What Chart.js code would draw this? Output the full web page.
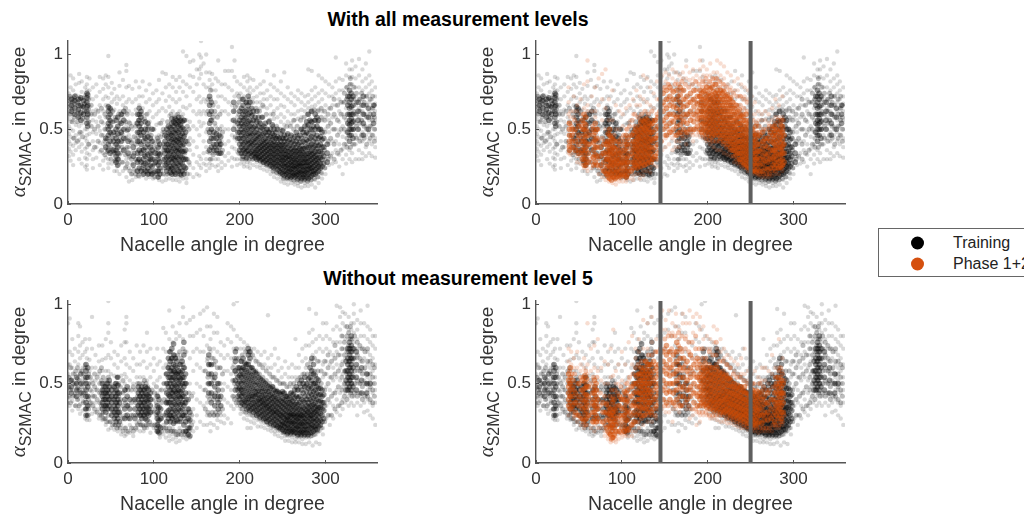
<!DOCTYPE html>
<html lang="en">
<head>
<meta charset="UTF-8">
<title>Nacelle angle scatter</title>
<script src="https://cdn.jsdelivr.net/npm/chart.js"></script>
<style>
    html, body { margin: 0; padding: 0; width: 1024px; height: 517px; overflow: hidden; background: #fff; font-family: "Liberation Sans", Arial, sans-serif; color: #000; }
    canvas { position: absolute; filter: blur(0.5px); }
    .heading { position: absolute; font-weight: bold; font-size: 19.5px; white-space: nowrap; transform: translate(-50%, -50%); }
    .ylabel { position: absolute; white-space: nowrap; font-size: 19px; color: #333; transform: translate(-50%, -50%) rotate(-90deg); }
    .ylabel i { font-family: "Liberation Serif", serif; font-size: 21px; }
    .ylabel sub { font-size: 16px; vertical-align: -6px; line-height: 0; }
    #legend { position: absolute; left: 878px; top: 228px; width: 170px; height: 47px; border: 1px solid #666; box-sizing: content-box; }
    #legend div { position: absolute; left: 74px; font-size: 16px; color: #222; white-space: nowrap; transform: translateY(-50%); }
    #legend span { position: absolute; left: 32px; width: 13px; height: 13px; border-radius: 50%; transform: translateY(-50%); }
</style>
</head>
<body>
<div class="heading" style="left:458px;top:19px">With all measurement levels</div>
<div class="heading" style="left:458px;top:278px">Without measurement level 5</div>

<canvas id="c1" width="400" height="235" style="left:0;top:30px"></canvas>
<canvas id="c2" width="400" height="235" style="left:470px;top:30px"></canvas>
<canvas id="c3" width="400" height="227" style="left:0;top:290px"></canvas>
<canvas id="c4" width="400" height="227" style="left:470px;top:290px"></canvas>

<div class="ylabel" style="left:18px;top:122px"><i>α</i><sub>S2MAC</sub> in degree</div>
<div class="ylabel" style="left:486px;top:122px"><i>α</i><sub>S2MAC</sub> in degree</div>
<div class="ylabel" style="left:18px;top:382px"><i>α</i><sub>S2MAC</sub> in degree</div>
<div class="ylabel" style="left:486px;top:382px"><i>α</i><sub>S2MAC</sub> in degree</div>

<div id="legend">
    <span style="top:14px;background:#000"></span><div style="top:14px">Training</div>
    <span style="top:35px;background:#d5500f"></span><div style="top:35px">Phase 1+2</div>
</div>

<script>
// every row is [nacelle angle, alpha values read at that angle...]
const trainAllSparse = [
[1,.74,.71,.67,.62,.57,.52,.47,.42,.37,.32],[3,.86,.78,.72,.68,.64,.6,.55,.5,.45,.4,.35,.29],[6,.84,.76,.7,.65,.6,.56,.49,.44,.39,.33,.26],[9,.8,.73,.69,.66,.61,.53,.46,.41,.36],
[13,.87,.81,.72,.67,.63,.58,.52,.47,.43,.38,.3],[16,.82,.75,.7,.64,.59,.54,.48,.4,.35,.27],[20,.78,.73,.68,.62,.56,.5,.44,.37,.31,.25],[22,.85,.8,.76,.5,.46,.42,.38,.34,.3,.26,.23],
[25,.84,.76,.71,.65,.6,.55,.47,.4,.33],[29,.78,.7,.62,.56,.48,.42,.36,.3,.24],[33,.8,.72,.63,.55,.47,.38,.31],[37,.85,.75,.66,.58,.49,.41,.35,.26],
[41,.84,.77,.7,.62,.54,.46,.4,.34,.29,.23],[44,.86,.8,.72,.66,.58,.5,.43,.37,.31],[47,.99,.85,.78,.71,.66,.3,.27,.24],[51,.81,.74,.68,.6,.52,.45,.38,.33,.27],
[54,.77,.7,.63,.55,.48,.4,.35,.29,.22],[57,.72,.67,.25,.22],[60,.88,.79,.7,.62,.54,.47,.39,.33,.27,.2],[64,.83,.72,.66,.58,.5,.42,.36,.28,.22],
[68,.93,.89,.78,.68,.61,.53,.45,.37,.3,.25,.18],[71,.79,.7,.62,.55,.46,.38,.31,.24,.15],[75,.77,.68,.6,.5,.42,.35,.27,.2,.16],[79,.82,.7,.63,.54,.44,.36,.29,.22,.18],
[83,.78,.72,.66,.2,.18],[87,.82,.72,.64,.56,.46,.37,.28,.22,.19],[91,.76,.68,.6,.52,.43,.34,.25,.2,.17],[95,.8,.7,.62,.55,.47,.38,.3,.22,.18],
[99,.74,.66,.58,.5,.42,.34,.26,.2,.17],[103,.76,.68,.6,.53,.45,.36,.27,.21],[106,.83,.7,.62,.54,.46,.38,.3,.22,.18,.16],[110,.88,.74,.64,.56,.48,.37,.28,.2,.15],
[114,.87,.78,.69,.62,.28,.24,.19,.16],[118,.8,.72,.65,.59,.24,.2,.17],[122,.85,.78,.7,.62,.22,.19,.16],[126,.83,.75,.68,.6,.19,.16],
[130,.85,.78,.7,.62,.21,.18,.15],[134,1.02,.82,.75,.65,.6,.2,.17],[138,.99,.8,.72,.64,.56,.3,.24,.17,.14],[142,.95,.86,.78,.66,.55,.44,.36,.26,.2],
[146,.96,.85,.75,.62,.52,.42,.33,.24,.18],[150,.9,.8,.7,.6,.5,.38,.28,.2],[153,1,.9,.84,.72,.62,.55,.46,.32,.26,.19],[155,1.09,.98,.92,.87,.68,.6,.52,.3,.24],
[158,.94,.8,.7,.62,.54,.42,.34,.27],[161,1,.88,.78,.68,.6,.48,.38,.3,.26,.22],[165,.88,.83,.78,.46,.34,.3,.27,.24],[168,.87,.8,.76,.6,.5,.34,.3,.26],
[172,.84,.76,.68,.6,.52,.34,.3,.25],[175,.96,.82,.72,.65,.3,.26,.22],[179,.8,.72,.62,.52,.42,.34,.28,.24],[183,.89,.8,.7,.62,.5,.4,.32,.26],
[187,.89,.78,.68,.6,.5,.42,.34,.29],[191,1.05,.89,.76,.66,.56,.46,.38,.31,.25],[194,.96,.85,.72,.62,.52,.44,.37,.3],[197,.82,.74,.66,.58,.5,.42,.35,.3,.26],
[201,.8,.74,.7,.33,.3,.27],[205,.85,.78,.72,.3,.27,.25],[209,.86,.82,.76,.28,.25],[212,.84,.78,.74,.3,.27,.24],
[216,.83,.76,.71,.3,.26],[220,.78,.72,.68,.28,.25],[224,.8,.74,.68,.64,.26,.24],[228,.82,.74,.7,.65,.26,.23],
[232,.89,.76,.7,.64,.25,.22],[236,.8,.72,.66,.6,.23,.2],[240,.86,.78,.7,.62,.57,.21,.18],[244,.76,.7,.64,.58,.2,.17],
[248,.82,.74,.66,.6,.55,.18,.15],[252,.88,.72,.65,.58,.53,.17,.14],[256,.78,.7,.62,.55,.16,.13],[260,.74,.68,.6,.54,.16,.14],
[264,.72,.66,.6,.56,.15,.13],[268,.76,.7,.62,.57,.14,.12],[272,.74,.68,.63,.58,.15,.11],[276,.72,.66,.62,.14,.12],
[280,.9,.73,.68,.64,.15,.12],[284,.89,.76,.7,.65,.16,.13],[288,.78,.72,.66,.16,.11],[292,.86,.74,.68,.63,.18,.14],
[296,.84,.76,.7,.62,.56,.2,.17],[300,.82,.74,.66,.58,.5,.3,.24,.2],[304,.8,.72,.64,.56,.48,.4,.32,.26],[308,.78,.72,.66,.58,.5,.42,.34,.27],
[312,.98,.82,.74,.66,.58,.5,.42,.36,.28],[316,.84,.76,.7,.62,.55,.48,.4,.33,.25],[320,.83,.76,.68,.6,.52,.45,.37,.3,.2],[324,.94,.86,.78,.7,.64,.56,.48,.4,.33,.27],
[328,.9,.85,.8,.36,.3],[331,.96,.9,.85,.8,.4,.34,.28],[335,.92,.84,.78,.72,.66,.6,.54,.46,.4,.3],[339,.97,.86,.78,.7,.64,.58,.5,.44,.36,.3],
[343,.9,.82,.76,.7,.62,.56,.48,.42,.34,.3],[347,.94,.84,.78,.72,.66,.6,.52,.46,.38,.32],[351,1.02,.86,.8,.74,.68,.62,.56,.48,.42,.34],[354,.82,.76,.7,.64,.58,.52,.46,.4,.32],
[358,.78,.72,.67,.62,.56,.5,.44,.38,.31]
];
const trainAllMid = [
[2,.6,.65,.69,.72],[5,.55,.63,.68],[7,.44,.58,.67,.71],[11,.42,.55,.61,.68],[14,.48,.6,.7],[17,.45,.57,.65],[19,.62,.67,.71],[24,.4,.55,.63,.7],[27,.52,.6,.66],[31,.38,.5,.6],[35,.42,.52,.62],[39,.36,.46,.55,.64],[43,.33,.42,.5,.6],[46,.35,.44,.52],
[50,.3,.37,.47,.55,.63],[52,.35,.44,.55,.62],[55,.29,.34,.46,.58],[59,.3,.42,.5,.6],[61,.34,.45,.55],[63,.28,.38,.47,.6],[67,.24,.33,.44,.55,.64],[69,.27,.38,.49,.6],[72,.22,.32,.43,.54],[74,.2,.3,.41,.52],[77,.23,.34,.45],[79,.2,.3,.4,.52],
[82,.19,.3,.45,.56],[86,.24,.36,.5,.6],[89,.23,.33,.45,.57],[92,.22,.36,.47,.6],[94,.2,.3,.42,.52],[97,.2,.33,.46],[100,.21,.3,.4,.5],[101,.18,.27,.37],[104,.2,.32,.44],[108,.22,.34,.45,.54],[111,.2,.3,.4,.5],[112,.24,.36,.48],[116,.2,.35,.55],[120,.23,.46,.6],[124,.21,.58],[128,.2,.6],[132,.19,.58],[136,.22,.34,.46,.56],[139,.2,.3,.42,.52],[141,.28,.4,.5],
[163,.35,.5,.62,.7],[166,.3,.56,.7,.76],[169,.33,.46,.58,.66],[171,.38,.54,.62],[174,.34,.5,.58],[177,.4,.5,.6],[180,.36,.48],[195,.45,.55,.65],[199,.34,.6,.68,.72],[203,.3,.62,.7],[207,.3,.6,.68],[211,.3,.63,.7],[215,.3,.6,.68],[219,.32,.56,.64],[223,.3,.55,.62],[227,.28,.5,.58,.66],
[231,.26,.5,.6],[235,.25,.48,.56],[239,.22,.45,.52,.6],[243,.21,.44,.52],[247,.2,.44,.5],[251,.17,.44,.5],[255,.17,.46,.52],[259,.17,.45,.52],[263,.16,.44,.5,.56],[267,.16,.46,.52],[271,.15,.5,.56],[275,.16,.5,.58],[279,.15,.52,.6],[283,.16,.55,.62],[287,.17,.56,.63],[291,.18,.55,.62],[295,.21,.5,.58,.64],
[299,.24,.36,.48,.56,.62],[303,.3,.42,.52,.6],[306,.32,.44,.54,.64],[310,.3,.4,.5,.6,.7],[314,.34,.46,.56,.66],[318,.36,.5,.6,.68],[322,.4,.5,.58,.68,.74],[325,.38,.44,.7,.78],[329,.38,.8,.84],[333,.4,.5,.56,.62,.7,.78],[336,.44,.52,.6,.68,.74],[340,.42,.54,.62,.7],[342,.46,.56,.66,.74],[345,.44,.52,.6,.68],[348,.4,.5,.58,.66,.72],[352,.44,.52,.6,.7],[355,.46,.56,.64,.72],[357,.42,.5,.58,.66]
];
const trainAllDense = [
[4,.62,.66,.7],[8,.6,.64,.69,.72],[12,.58,.63,.66,.7],[15,.56,.61,.66,.71],[18,.6,.65,.69],
[22,.54,.58,.62,.65,.68,.71,.74],[23,.52,.6,.66,.73],[44,.38,.44],[47,.36,.4,.46,.5,.54,.58,.62,.65],[49,.34,.42,.48,.52,.56,.6,.64],
[53,.36,.42,.48],[56,.28,.32,.36,.4,.44,.5,.56],[58,.26,.3,.34,.38,.42,.47,.52,.58],[62,.42,.48,.54,.6],[65,.36,.44,.5,.56,.62],
[70,.34,.42,.5],[76,.26,.32,.38],[81,.22,.28,.34,.42,.48,.54,.6],[83,.24,.3,.36,.42,.48,.52,.56,.6,.64],[85,.22,.28,.34,.4,.46,.5,.54,.58,.62],
[88,.2,.26,.3,.36,.42,.48],[90,.22,.27,.32,.38,.44,.5,.55],[93,.2,.24,.28,.33,.4,.45,.5,.54],[96,.22,.26,.3,.34,.38,.44],[98,.2,.25,.3,.36,.42,.5],
[102,.22,.28,.34],[105,.18,.22,.26,.3,.34,.38,.42],[107,.2,.24,.28,.33,.4],[113,.26,.3,.34,.38,.42,.46],[115,.22,.27,.31,.36,.4,.45,.5],
[117,.24,.28,.32,.36,.4,.44,.48,.52],[119,.21,.25,.3,.34,.38,.42,.47,.51],[121,.2,.24,.28,.31,.35,.39,.43,.46,.5,.54,.57],[123,.22,.26,.3,.33,.37,.41,.44,.48,.52,.55],[125,.2,.25,.29,.32,.36,.4,.43,.47,.5,.54,.57],
[127,.23,.27,.31,.35,.38,.42,.45,.49,.53,.56],[129,.22,.26,.3,.34,.37,.41,.44,.48,.52,.55,.58],[131,.2,.24,.28,.32,.36,.4,.43,.46,.5,.53,.56],[133,.22,.27,.31,.35,.39,.43,.47,.51,.55],[135,.2,.25,.3,.35,.4,.45,.5,.56],
[137,.24,.3,.36,.42,.48],[165,.36,.42,.48,.54,.6,.66,.72],[167,.38,.44,.5,.56,.62,.68],[170,.36,.4,.44,.48],[173,.36,.4,.44,.47],[176,.34,.38,.42,.46],[178,.34,.4,.45],
[193,.5,.56,.62,.68],[198,.44,.48,.54],[200,.36,.4,.44,.48,.52,.56,.62],[202,.34,.38,.42,.46,.5,.54,.58,.64],[204,.32,.36,.4,.44,.48,.52,.56,.6,.66,.7],[206,.34,.37,.41,.45,.49,.53,.57,.62],
[208,.31,.35,.38,.42,.46,.5,.54,.58,.63,.68],[210,.33,.36,.4,.43,.47,.51,.55,.6,.66,.72],[212,.34,.38,.41,.45,.48,.52,.56,.61,.68],[214,.32,.35,.39,.42,.46,.5,.54,.59,.64],[216,.33,.36,.4,.43,.47,.51,.56,.62],
[218,.31,.34,.37,.41,.44,.48,.52,.58],[220,.3,.33,.36,.39,.43,.46,.5,.55,.62],[222,.31,.34,.37,.4,.44,.47,.52,.58],[224,.29,.32,.35,.38,.41,.45,.49,.54],[226,.3,.33,.36,.39,.42,.46,.51,.58],
[228,.28,.31,.34,.37,.4,.43,.47,.52],[230,.29,.32,.35,.38,.41,.44,.48,.54],[232,.27,.3,.33,.36,.39,.42,.46,.5],[234,.28,.31,.34,.37,.4,.44,.48,.55],[236,.26,.29,.32,.35,.38,.41,.45,.5],
[238,.25,.28,.31,.34,.37,.4,.43,.47,.53],[240,.24,.27,.3,.33,.36,.39,.42,.46,.5],[242,.25,.28,.31,.34,.37,.4,.44,.48],[244,.23,.26,.29,.32,.35,.38,.41,.45,.5],[246,.22,.25,.28,.31,.34,.37,.4,.44],
[248,.21,.24,.27,.3,.33,.36,.39,.42,.47],[250,.2,.23,.26,.29,.31,.34,.37,.4,.44,.49],[252,.19,.22,.25,.27,.3,.33,.36,.39,.42,.46],[254,.2,.22,.25,.28,.31,.33,.36,.4,.44],[256,.18,.21,.24,.26,.29,.32,.35,.38,.42,.47],
[258,.19,.22,.24,.27,.3,.32,.35,.39,.43],[260,.18,.21,.23,.26,.28,.31,.34,.37,.41,.46],[262,.19,.21,.24,.26,.29,.32,.35,.38,.42],[264,.18,.2,.23,.25,.28,.3,.33,.36,.4,.45],[266,.19,.21,.24,.26,.29,.32,.35,.38,.42,.48],
[268,.17,.2,.22,.25,.27,.3,.33,.36,.4,.44],[270,.18,.21,.23,.26,.28,.31,.34,.37,.41,.46],[272,.17,.2,.22,.25,.27,.3,.33,.36,.39,.44,.5],[274,.18,.2,.23,.25,.28,.31,.34,.37,.42,.48],[276,.17,.2,.22,.25,.28,.3,.33,.37,.41,.46,.52],
[278,.18,.21,.23,.26,.28,.31,.34,.38,.43,.48,.55],[280,.17,.2,.23,.25,.28,.31,.34,.38,.42,.47,.53,.6],[282,.18,.21,.24,.26,.29,.32,.35,.39,.44,.5,.56],[284,.19,.22,.24,.27,.3,.33,.36,.4,.45,.5,.55,.62],[286,.2,.22,.25,.28,.31,.34,.38,.42,.47,.52],
[288,.2,.23,.26,.29,.32,.35,.39,.44,.5,.56,.6],[290,.21,.24,.27,.3,.33,.37,.41,.46,.52,.58],[292,.22,.25,.28,.31,.35,.39,.44,.5,.56],[294,.24,.27,.31,.35,.4,.45,.5],[296,.25,.3,.34,.38,.43,.48],[298,.27,.32,.38,.44],
[302,.28,.34,.4],[326,.48,.54,.6,.66,.72],[328,.42,.46,.5,.53,.56,.6,.64,.68,.72,.76],[330,.46,.5,.54,.57,.6,.65,.7,.74],[332,.44,.5,.55,.6,.66,.72],[338,.5,.56,.62,.68],[344,.46,.54,.6,.66,.72],[350,.5,.58,.64],[356,.54,.6,.66]
];
const phaseAllSparse = [
[38,.78,.68,.6,.54,.38,.34],[40,.62,.58,.36,.33],[44,.72,.62,.58,.34],[48,.66,.62,.32,.28],[52,.7,.6,.32,.27],[56,.8,.64,.24],[60,.96,.82,.66,.62,.24,.22],
[65,.72,.62,.28,.24],[69,.78,.62,.58,.26],[73,.84,.66,.24,.2],[77,.87,.7,.56,.22,.18],[81,.9,.64,.5,.2,.16],[85,.7,.56,.17,.15],[89,.76,.56,.18,.14],[93,.66,.5,.16,.13],
[97,.62,.5,.17,.15],[101,.6,.52,.18,.15],[105,.64,.5,.17,.15],[109,.66,.55,.17],[113,.7,.6,.19,.16],[117,.76,.66,.2],[121,.72,.66,.2,.17],[125,.86,.7,.22,.19],[129,.84,.68,.22],
[133,.78,.66,.24,.21],[137,.74,.64,.26],[141,.82,.7,.3,.25],[147,.86,.78,.42,.36],[151,.88,.82,.44,.38],[155,.86,.8,.46,.4],[159,.9,.84,.44,.36],[163,.88,.82,.42,.38],
[167,.86,.42,.38],[171,.88,.84,.44],[175,.92,.84,.45,.4],[179,.88,.83,.46],[183,.9,.84,.46,.42],[187,.86,.82,.46],[191,.96,.9,.84,.45],[195,.92,.86,.82,.44],[199,.9,.86,.42],
[203,.94,.86,.82,.4],[207,.88,.84,.38],[211,.96,.88,.84,.36],[215,.94,.86,.82,.36],[219,.92,.84,.8,.34],[223,.88,.8,.33],[227,.86,.78,.32],[231,.82,.76,.28],[235,.84,.76,.27],
[239,.8,.72,.25],[243,.78,.72,.24],[247,.76,.7,.22],[251,.72,.66,.2],[255,.68,.6,.2],[259,.62,.56,.19],[263,.6,.56,.18],[267,.62,.56,.18],[271,.6,.54,.18],[275,.64,.56,.19],
[279,.7,.58,.2],[283,.66,.58,.2],[287,.72,.58,.22]
];
const phaseAllMid = [
[41,.44,.52],[45,.38,.48,.56],[49,.36,.44,.54],[53,.34,.44,.52],[59,.28,.38,.5],[63,.3,.4,.48],[66,.32,.42,.52],[72,.3,.42,.5],[77,.24,.34,.44],[80,.22,.32,.42],[83,.2,.3,.42],[87,.19,.27,.35,.45],[91,.18,.28,.38,.46],[95,.2,.28,.38],[99,.19,.27,.36,.44],[102,.2,.28,.38,.46],[106,.19,.28,.4,.5],[109,.22,.32,.42,.52],[112,.24,.36,.46,.56],[115,.26,.4,.52,.6],[119,.25,.45,.58],[123,.27,.5,.6],[127,.26,.5,.62],[131,.28,.5,.6],[135,.3,.44,.56,.62],[138,.32,.44,.56],[141,.3,.44,.6],
[144,.36,.5,.62,.7],[146,.42,.55,.66,.76],[150,.46,.54,.66,.78],[154,.5,.6,.7,.8],[158,.48,.56,.68,.76],[162,.46,.58,.66,.8],[166,.48,.6,.72,.8],[170,.46,.56,.66,.76,.82],[174,.48,.58,.7,.8],[178,.5,.6,.68,.78],[182,.48,.58,.7,.8],[186,.5,.6,.68,.76,.82],[190,.48,.58,.72,.8],[194,.46,.78,.82],[198,.44,.8,.84],[202,.43,.78,.82],[206,.42,.8,.84],[210,.42,.8,.84],[214,.42,.78,.82],[218,.4,.76,.8],[222,.38,.72,.78],[226,.36,.7,.76],[230,.32,.68,.74],[234,.3,.66,.72],[238,.28,.6,.66,.72],[242,.26,.58,.64,.7],[246,.24,.56,.62,.68],[250,.22,.54,.6],[253,.22,.5,.56],[257,.21,.3,.48,.54],[260,.2,.36,.48,.52],[265,.2,.3,.42,.5],[269,.2,.32,.42,.5],[272,.2,.3,.46,.52],[275,.22,.34,.44,.52],[279,.22,.36,.46,.54],[282,.24,.4,.5,.56],[286,.24,.36,.46,.56],[288,.26,.4,.5,.56]
];
const phaseAllDense = [
[39,.36,.39,.42,.46,.5,.54],[42,.38,.42,.46,.5],[46,.36,.42,.5],[50,.34,.4,.46,.52],[54,.3,.36,.42,.5,.56],[56,.26,.3,.34,.38,.42,.46,.5,.54,.6],[58,.26,.31,.36,.41,.45,.49,.53,.58],[61,.28,.34,.4,.46],
[67,.26,.31,.36,.41,.46,.5],[69,.28,.33,.38,.43,.48,.54],[71,.26,.32,.38,.44,.5],[75,.26,.32,.38],[79,.22,.28,.34,.4],[82,.2,.25,.3,.35,.4],[84,.18,.22,.26,.3,.34,.38,.42,.47],[86,.17,.21,.25,.29,.33,.37,.41,.46,.5],
[88,.16,.2,.24,.28,.32,.36,.4,.44],[90,.18,.22,.26,.3,.34,.38,.43],[92,.17,.21,.25,.29,.33,.37,.42],[94,.18,.22,.26,.3,.34],[96,.19,.23,.27,.31,.36,.42],[98,.18,.22,.26,.3,.34,.4],[100,.2,.24,.28,.33],[103,.19,.23,.27,.31,.36,.42],
[105,.18,.22,.26,.3,.35,.4,.46],[107,.2,.24,.28,.32,.38,.44],[111,.22,.28,.34,.4,.46],[114,.24,.28,.32,.37,.42,.48],[116,.26,.3,.34,.38,.42,.46,.5],[118,.24,.28,.32,.36,.4,.44,.49],[120,.27,.31,.35,.39,.43,.47,.52],[122,.25,.3,.34,.38,.42,.46,.5,.55],
[124,.28,.32,.36,.4,.44,.48,.52,.56],[126,.26,.31,.35,.39,.43,.47,.51,.55],[128,.29,.33,.37,.41,.45,.49,.53,.57],[130,.27,.32,.36,.4,.44,.48,.52,.56],[132,.3,.34,.38,.42,.46,.5,.54],[134,.28,.33,.38,.43,.48,.53],[136,.3,.36,.42,.48,.54],[139,.32,.38,.44,.5,.56],[142,.34,.4,.46,.52,.58],
[148,.5,.56,.62,.68,.74],[152,.46,.52,.58,.64,.7,.76],[156,.48,.54,.6,.66,.72,.78],[160,.5,.55,.6,.65,.7,.75],[164,.46,.52,.58,.64,.7,.76],[168,.48,.53,.58,.63,.68,.73,.78],[172,.5,.55,.6,.65,.7,.76],[176,.48,.54,.6,.66,.72],[180,.5,.56,.62,.68,.74],[184,.5,.55,.6,.65,.7,.76],[188,.52,.57,.62,.67,.72],
[191,.5,.55,.6,.64,.68,.72,.76],[193,.48,.53,.58,.62,.66,.7,.74],[195,.5,.54,.58,.62,.66,.7,.75],[197,.47,.51,.55,.59,.63,.67,.71,.76],[199,.49,.53,.57,.61,.65,.69,.73,.78],[201,.46,.5,.54,.58,.62,.66,.7,.74],[203,.48,.52,.56,.6,.64,.68,.72,.77],[205,.45,.49,.53,.57,.61,.65,.69,.73,.78],[207,.47,.51,.55,.59,.63,.67,.71,.75],
[209,.46,.5,.54,.58,.62,.66,.7,.74,.8],[211,.48,.52,.56,.6,.64,.68,.72,.76],[213,.46,.5,.54,.58,.62,.66,.7,.74],[215,.44,.48,.52,.56,.6,.64,.68,.72,.76],[217,.46,.5,.54,.58,.62,.66,.7,.74],[219,.42,.46,.5,.54,.58,.62,.66,.7,.75],[221,.44,.48,.52,.56,.6,.64,.68,.72],[223,.4,.44,.48,.52,.56,.6,.64,.68,.73],[225,.42,.46,.5,.54,.58,.62,.66,.7],[227,.38,.42,.46,.5,.54,.58,.62,.66,.71],
[229,.36,.4,.44,.48,.52,.56,.6,.64,.68],[231,.36,.4,.44,.48,.52,.56,.6,.64],[233,.33,.37,.41,.45,.49,.53,.57,.61,.66],[235,.34,.38,.42,.46,.5,.54,.58,.62],[237,.3,.34,.38,.42,.46,.5,.54,.58,.63],[239,.3,.34,.38,.42,.46,.5,.54,.59],[241,.28,.32,.36,.4,.44,.48,.52,.56,.6],[243,.27,.31,.35,.39,.43,.47,.51,.56],[245,.26,.3,.34,.38,.42,.46,.5,.54,.6],[247,.25,.29,.33,.37,.41,.45,.49,.53],
[249,.24,.28,.32,.36,.4,.44,.48,.52,.56],[252,.22,.26,.3,.34,.38,.42,.46,.5],[254,.23,.27,.31,.35,.39,.43,.47],[256,.22,.26,.3,.34,.38,.42,.46,.52],[258,.23,.27,.31,.35,.4,.45],[261,.22,.26,.3,.35,.4,.46],[264,.22,.27,.32,.37,.42,.48],[267,.24,.29,.34,.39,.44],[270,.23,.28,.33,.38,.44],[273,.24,.3,.36,.42,.48],
[276,.26,.31,.36,.41,.46,.5],[278,.24,.28,.32,.36,.4,.44,.48,.52],[280,.26,.3,.34,.38,.42,.46,.5],[283,.24,.28,.33,.38,.43,.48],[285,.25,.29,.33,.37,.41,.45,.49,.53],[287,.26,.3,.34,.38,.43,.48,.52],[289,.28,.34,.4,.46]
];
const trainNoL5Sparse = [
[0,.88,.62,.56,.5,.44,.38],[2,.91,.7,.62,.54,.47,.41,.36],[5,.78,.68,.6,.52,.46,.39,.33],[8,.72,.64,.56,.49,.42,.36],[12,.88,.8,.7,.62,.55,.47,.4,.34],[14,.86,.74,.66,.58,.5,.44,.37,.31],[17,.76,.68,.6,.53,.46,.39,.33],[20,.78,.7,.62,.54,.47,.4,.28],
[22,.72,.66,.34,.3,.27],[25,.78,.65,.58,.5,.42,.36,.27],[28,.92,.72,.6,.52,.45,.38,.31],[32,.68,.6,.52,.46,.38,.32],[36,.74,.64,.56,.34,.28],[40,.74,.65,.58,.31,.27],[44,.78,.66,.58,.28,.24],[47,1.02,.88,.82,.68,.58,.26,.21],
[50,.76,.66,.56,.26,.22],[54,.7,.62,.55,.24,.21],[58,.68,.6,.54,.23,.2],[62,.74,.64,.55,.24,.18],[66,.84,.76,.66,.56,.5,.22,.17],[68,.92,.88,.76,.62,.54,.2,.18],[72,.7,.6,.52,.24,.19],[76,.66,.58,.5,.22,.17],
[80,.74,.62,.54,.25,.21],[84,.7,.62,.54,.24,.2],[88,.74,.64,.54,.23,.2],[92,.82,.7,.6,.52,.22],[96,.72,.62,.54,.24,.19],[100,.66,.58,.5,.4,.32,.22],[104,.72,.62,.52,.44,.3,.2],[107,.64,.54,.46,.18,.16],
[111,.85,.72,.6,.5,.3,.24,.18],[114,.82,.7,.62,.25,.2,.16],[118,.96,.78,.2,.17,.14],[122,.86,.76,.22,.18,.15],[126,.82,.78,.2,.16,.13],[130,.88,.8,.22,.18,.14],[134,.98,.92,.78,.2,.16],[138,.88,.7,.2,.17,.15],
[142,.9,.8,.66,.5,.3,.22,.16],[146,.92,.8,.7,.58,.44,.34,.26,.2],[150,.82,.72,.62,.5,.4,.3,.22],[154,.94,.84,.7,.6,.48,.38,.26],[158,.96,.8,.7,.58,.46,.36,.24],[162,.98,.86,.74,.64,.5,.38,.3,.24],[166,.86,.78,.7,.62,.3,.25,.2],[170,.94,.82,.72,.66,.3,.24],
[174,.92,.82,.7,.3,.27,.22],[178,.76,.68,.6,.3,.26],[182,.74,.66,.58,.5,.4,.3,.25],[186,.88,.78,.68,.58,.48,.38,.28],[190,.86,.76,.66,.56,.46,.36,.25],[193,1,.84,.72,.62,.52,.42,.34],[197,1.02,.8,.72,.4,.36],[201,.78,.72,.34,.31],
[205,.76,.72,.32,.28],[209,.74,.7,.3,.27,.22],[213,.72,.68,.3,.26,.22],[217,.66,.72,.28,.25],[221,.7,.64,.27,.23],[225,.68,.62,.26,.23],[229,.7,.62,.25,.22],[233,.93,.66,.6,.24,.21],
[237,.68,.6,.54,.22,.2],[241,.72,.62,.54,.2,.18],[245,.66,.58,.52,.2,.17],[249,.6,.54,.5,.19,.16],[253,.64,.56,.5,.17,.14],[257,.6,.54,.48,.17,.14],[261,.62,.54,.48,.16,.13],[265,.78,.6,.54,.15,.13],
[269,.68,.6,.54,.16,.13],[273,.72,.64,.56,.15,.12],[277,.74,.66,.6,.16,.12],[281,.97,.82,.74,.16,.13],[285,.84,.76,.68,.17,.11],[289,.94,.78,.7,.18,.13],[293,.8,.72,.64,.2,.12],[297,.88,.78,.7,.62,.54,.22,.18],
[301,.88,.8,.72,.64,.56,.48,.36,.28],[305,.78,.7,.62,.54,.46,.38,.3,.24],[309,.84,.76,.68,.6,.52,.44,.36,.28],[313,.99,.86,.76,.7,.62,.54,.46,.4,.32],[317,.98,.92,.84,.76,.68,.6,.52,.44,.36,.3],[320,.95,.88,.8,.72,.64,.56,.48,.4,.34],[323,.94,.86,.78,.72,.66,.58,.5,.44,.38],[327,.92,.84,.78,.42,.36],
[330,.88,.84,.44,.38],[333,1,.94,.88,.82,.76,.42,.36],[337,.9,.84,.78,.72,.66,.58,.5,.44,.38,.3],[341,.96,.88,.8,.72,.64,.58,.5,.42,.36],[345,.88,.8,.72,.66,.58,.52,.44,.38,.32],[349,.99,.86,.78,.7,.62,.54,.46,.4,.33],[352,.84,.76,.68,.6,.52,.46,.38,.3],[355,.8,.74,.66,.58,.5,.44,.36,.28],[358,.8,.72,.62,.54,.46,.38,.24]
];
const trainNoL5Mid = [
[1,.42,.48,.54],[3,.38,.46,.52,.6],[6,.42,.5,.56],[9,.36,.44,.5,.58],[11,.4,.47,.53,.6],[13,.36,.46,.52],[16,.42,.48,.58],[18,.38,.44,.5,.56],[20,.34,.44,.52,.6],[24,.34,.4,.5,.56],[26,.38,.46,.54],[29,.36,.42,.5],[31,.34,.42,.48,.56],[34,.32,.4,.46,.54],[37,.3,.38,.44,.5,.58],[39,.3,.36,.44,.52,.6],[41,.28,.32,.4,.46,.54],[43,.28,.34,.42,.5],[45,.26,.36,.44,.52],[47,.3,.4,.46,.54],[49,.26,.34,.42,.5],[52,.24,.32,.4,.48],[55,.24,.34,.42,.5],[57,.22,.3,.38,.46,.54],[59,.24,.34,.42,.5],[61,.22,.3,.4,.48],[64,.2,.28,.36,.44,.52],[67,.22,.3,.38,.46],[70,.2,.28,.36,.46],[74,.22,.3,.38,.46],[76,.2,.3,.4,.48],[79,.22,.3,.38,.46],
[81,.24,.3,.36,.42,.5],[83,.26,.34,.42,.5],[85,.24,.3,.38,.46],[87,.24,.34,.42,.5],[89,.22,.3,.38,.46,.52],[91,.24,.34,.42,.5],[93,.24,.32,.4,.48],[95,.26,.34,.42],[98,.24,.32,.4,.46],[101,.24,.34,.44],[103,.22,.3,.38,.48],[105,.2,.26,.34,.42],[109,.2,.28,.38,.46],[112,.22,.3,.4,.5],[114,.22,.3,.38,.46,.56],[116,.2,.3,.4,.5,.6],[118,.22,.3,.42,.52,.62,.7],[120,.2,.3,.46,.58,.66],[122,.2,.28,.44,.54,.64],[124,.2,.26,.48,.58,.68],[126,.18,.26,.44,.56,.66],[128,.18,.26,.46,.56,.68],[130,.2,.26,.42,.52,.62,.7],[132,.18,.26,.44,.56,.66],[134,.2,.3,.4,.52,.62,.72],[136,.18,.28,.38,.5,.6,.7],[138,.2,.3,.4,.5],[141,.2,.26,.34,.44],[144,.24,.3,.42],
[160,.34,.46,.58],[163,.32,.42,.54,.66],[165,.3,.4,.5,.62,.72],[168,.32,.42,.54,.66],[170,.3,.4,.52,.62],[172,.32,.44,.56,.64],[174,.3,.4,.5,.6],[177,.32,.4,.5,.6],[180,.34,.46,.56],[192,.42,.52,.6],[194,.4,.5,.58,.66],[196,.38,.48,.56,.66,.72],[199,.38,.48,.58,.66],[201,.36,.46,.56,.64],[203,.34,.44,.6,.68],[207,.32,.4,.62,.7],[211,.32,.42,.64,.7],[215,.3,.42,.6,.68],[219,.3,.44,.58,.64],[223,.28,.4,.56,.62],[227,.27,.38,.54,.6],[231,.26,.36,.52,.58],[235,.24,.34,.5,.56],[239,.23,.32,.48,.54],[243,.22,.32,.46,.52],[247,.21,.3,.44,.5],[251,.19,.3,.44,.5],[255,.18,.28,.42,.48],[259,.18,.3,.44,.5],[263,.18,.3,.44,.5],[267,.17,.3,.46,.52],[271,.17,.3,.48,.54],[275,.17,.3,.48,.56],[279,.17,.32,.5,.56,.62],[283,.17,.3,.5,.56,.64],[287,.18,.32,.5,.58,.66],[291,.2,.34,.5,.58,.64],[295,.22,.36,.5,.58],
[299,.26,.36,.46,.56,.64],[303,.3,.4,.5,.6,.68],[307,.3,.42,.54,.64],[311,.34,.44,.56,.66,.74],[315,.36,.48,.58,.68],[319,.38,.46,.54,.62,.72,.8],[322,.42,.5,.58,.68,.76],[325,.4,.48,.56,.7,.8,.86],[327,.46,.54,.64,.7,.74,.82],[329,.44,.52,.6,.66,.72,.78,.86],[331,.42,.5,.56,.64,.7,.78],[334,.44,.5,.58,.66,.72,.8],[337,.42,.52,.6,.68,.76],[340,.44,.5,.58,.66,.74],[343,.4,.48,.56,.64,.72],[346,.42,.5,.6,.7],[349,.42,.5,.56,.64,.72],[352,.4,.48,.56,.64],[355,.38,.46,.54,.62],[357,.42,.5,.6]
];
const trainNoL5Dense = [
[4,.44,.48,.52],[10,.42,.46,.5,.54],[15,.44,.5,.56],[21,.3,.34,.38,.42,.46,.5,.54,.58,.62],[23,.3,.36,.42,.48,.54,.6],[40,.34,.38,.42,.46,.5],[42,.36,.4,.44,.48],[44,.32,.36,.4,.44,.48],[46,.34,.38,.42,.46,.5],[48,.36,.4,.44,.48,.52],[51,.3,.34,.38,.42,.46],
[54,.28,.32,.36,.4,.44,.48],[56,.26,.3,.34,.38,.42,.46,.5],[58,.28,.32,.36,.4,.44,.49,.54],[60,.26,.32,.38,.44],[66,.28,.34,.4,.46],[69,.3,.36,.42,.48],[72,.28,.34,.4],[78,.28,.34,.4],[82,.32,.36,.4,.44,.48],[84,.3,.34,.38,.42,.46],[86,.28,.32,.36,.4,.44,.48],
[88,.3,.34,.38,.42,.46],[90,.28,.32,.36,.4,.44,.48],[92,.27,.31,.35,.39,.43,.47],[94,.3,.34,.38,.42,.46],[96,.32,.36,.4,.44],[104,.2,.24,.28,.32,.36,.42],[106,.19,.23,.27,.31,.35,.4],[108,.22,.28,.34],[115,.26,.32,.38,.44,.5,.56],[117,.28,.33,.38,.43,.48,.54,.6,.66],
[119,.26,.3,.34,.38,.42,.46,.5,.54,.58,.64,.7],[121,.28,.32,.36,.4,.44,.48,.52,.56,.6,.66,.72],[123,.25,.3,.34,.38,.42,.46,.5,.54,.58,.62,.68,.75],[125,.29,.33,.37,.41,.45,.49,.53,.57,.61,.66],[127,.27,.32,.36,.4,.44,.48,.52,.56,.6,.64],[129,.3,.34,.38,.42,.46,.5,.54,.58],[131,.28,.33,.37,.41,.45,.49,.53,.57,.62],[133,.3,.34,.38,.42,.46,.5,.54,.58,.64],[135,.24,.3,.36,.42,.48,.54,.6,.68,.76],[137,.2,.26,.32,.38,.44,.5,.56],
[140,.18,.22,.28,.34,.4],[142,.17,.22,.27,.32],[164,.44,.5,.56,.62,.68],[167,.38,.44,.5,.56,.62],[171,.36,.42,.48,.54],[175,.34,.38,.42,.46,.5],[178,.36,.42],[195,.46,.52,.58,.64,.7],[198,.42,.46,.5,.54,.6],[200,.4,.43,.47,.51,.55,.6],
[202,.38,.42,.46,.5,.54,.58,.64],[204,.37,.4,.44,.48,.52,.56,.6,.66],[206,.36,.39,.43,.47,.51,.55,.59,.63],[208,.34,.38,.42,.46,.5,.54,.58,.62],[210,.35,.38,.41,.45,.49,.53,.57,.62,.68,.72],[212,.33,.36,.4,.44,.48,.52,.56,.6,.66,.7],[214,.34,.37,.4,.43,.47,.51,.55,.6],[216,.32,.35,.38,.42,.46,.5,.54,.58],[218,.33,.36,.39,.42,.45,.49,.53,.57],[220,.3,.33,.36,.39,.43,.47,.51,.56],
[222,.31,.34,.37,.4,.43,.46,.5,.54],[224,.29,.32,.35,.38,.41,.45,.49,.53],[226,.3,.33,.36,.39,.42,.45,.48,.52],[228,.28,.31,.34,.37,.4,.43,.47,.51],[230,.28,.31,.34,.37,.4,.43,.46,.5],[232,.26,.29,.32,.35,.38,.41,.45,.49],[234,.27,.3,.33,.36,.39,.42,.45,.48],[236,.25,.28,.31,.34,.37,.4,.43,.47],[238,.26,.29,.32,.35,.38,.41,.44,.48],[240,.24,.27,.3,.33,.36,.39,.42,.46],
[242,.24,.27,.3,.33,.36,.39,.42,.45],[244,.23,.26,.29,.32,.35,.38,.41,.45],[246,.22,.25,.28,.31,.34,.37,.4,.44],[248,.22,.24,.27,.3,.33,.36,.39,.43],[250,.21,.24,.26,.29,.32,.35,.38,.41,.45],[252,.2,.23,.25,.28,.31,.34,.37,.4,.44],[254,.2,.22,.25,.27,.3,.33,.36,.39,.42],[256,.19,.22,.24,.27,.29,.32,.35,.38,.42],[258,.2,.22,.25,.27,.3,.32,.35,.38,.41],[260,.19,.21,.24,.26,.29,.31,.34,.37,.4,.44],
[262,.2,.22,.25,.27,.3,.33,.36,.39,.43],[264,.19,.21,.24,.26,.29,.31,.34,.37,.41,.46],[266,.19,.22,.24,.27,.29,.32,.35,.38,.42,.48],[268,.18,.21,.23,.26,.28,.31,.34,.37,.41,.46],[270,.19,.21,.24,.26,.29,.31,.34,.38,.42,.5],[272,.18,.2,.23,.25,.28,.3,.33,.36,.4,.46,.52],[274,.19,.21,.24,.26,.29,.32,.35,.39,.44,.5],[276,.18,.21,.23,.26,.28,.31,.34,.38,.42,.48,.54],[278,.19,.21,.24,.27,.3,.33,.36,.4,.45,.5],[280,.18,.21,.24,.26,.29,.32,.35,.38,.42,.47,.53],
[282,.19,.22,.25,.28,.3,.33,.36,.4,.44,.48,.54,.6],[284,.19,.22,.24,.27,.3,.33,.36,.39,.43,.47,.52,.58,.66],[286,.2,.23,.26,.28,.31,.34,.37,.41,.45,.5,.56,.62],[288,.21,.23,.26,.29,.32,.35,.38,.42,.46,.5,.55],[290,.21,.24,.27,.3,.33,.36,.4,.44,.48,.53],[292,.23,.26,.29,.32,.35,.39,.43,.47,.52],[294,.24,.27,.31,.35,.39,.43,.47],[296,.26,.3,.34,.38,.42,.46],[298,.28,.33,.38,.43],
[324,.46,.52,.58,.64],[326,.46,.5,.54,.58,.62,.66,.72],[328,.48,.52,.56,.6,.64,.68,.72,.76],[330,.46,.5,.54,.58,.62,.66,.7,.74,.8],[332,.48,.54,.6,.66,.72],[336,.46,.54,.62,.7],[342,.44,.52,.6],[348,.44,.5,.56],[352,.5]
];
const phaseNoL5Sparse = [
[38,.72,.64,.34,.3],[41,.7,.62,.32],[44,.66,.6,.28],[48,.7,.6,.26],[52,.62,.58,.24],[56,.66,.6,.24,.22],[60,.88,.62,.56,.24],[64,.72,.58,.22],[68,.74,.6,.24,.2],[72,.78,.58,.22],[76,.6,.52,.22],[80,.64,.5,.2,.17],
[84,.62,.5,.17,.15],[87,.72,.54,.15,.13],[90,.84,.55,.16,.14],[93,.58,.5,.15,.13],[96,.62,.5,.18,.15],[100,.7,.52,.18,.16],[104,.62,.5,.18,.17],[108,.76,.52,.2,.17],[112,.8,.62,.2,.17],[116,.72,.66,.2],[120,.78,.7,.22],[125,.9,.72,.24],
[130,.88,.72,.26],[135,.92,.76,.26],[140,.78,.7,.28],[147,.96,.84,.34],[151,.9,.84,.32],[155,.96,.82,.32],[159,.88,.82,.34,.26],[163,.94,.86,.34],[167,.84,.78,.32],[171,.94,.88,.36],[175,.88,.8,.34],[179,.96,.88,.34,.28],[183,.92,.82,.3],[187,.94,.88,.32,.24],
[191,.92,.84,.3,.26],[195,.86,.78,.3],[199,.8,.72,.3],[203,.78,.72,.28],[207,.86,.76,.28],[211,.84,.72,.27],[215,.78,.7,.26],[219,.72,.66,.26],[223,.68,.62,.25],[227,.66,.6,.25],[231,.64,.58,.24],[235,.62,.56,.23],
[239,.66,.56,.22],[243,.72,.56,.22],[247,.58,.52,.21],[251,.56,.5,.2],[255,.58,.5,.2],[259,.54,.5,.19],[263,.6,.52,.2],[267,.6,.52,.2],[271,.58,.5,.2],[275,.68,.56,.2],[279,.6,.54,.22],[283,.78,.6,.22],[287,.66,.58,.24]
];
const phaseNoL5Mid = [
[39,.42,.5,.58],[42,.34,.46,.56],[45,.3,.38,.46,.56],[48,.3,.4,.5],[52,.28,.38,.46,.54],[55,.26,.36,.44,.54],[58,.24,.4,.48,.58],[63,.3,.4,.5],[67,.26,.36,.46,.54],[71,.26,.36,.46,.54],[75,.26,.36,.44],[80,.24,.32,.42],[83,.2,.3,.38],[86,.18,.24,.32,.42],[88,.15,.22,.3,.4,.46],[90,.16,.24,.32,.42],[92,.17,.26,.36,.46],[95,.2,.28,.36,.44],[99,.19,.3,.4,.48],[102,.2,.3,.42],[106,.2,.3,.4,.5],[109,.22,.32,.42,.54],[113,.24,.36,.48,.56],[116,.26,.36,.5,.6],[119,.26,.44,.56,.62],[123,.28,.5,.64],[127,.3,.5,.64],[131,.3,.46,.6,.68],[135,.3,.42,.54,.68],[139,.3,.4,.5,.62,.7],[142,.34,.46,.58,.7],[145,.36,.48,.6,.72],
[150,.36,.48,.6,.72,.78],[154,.36,.46,.58,.7,.8],[158,.38,.5,.6,.72,.8],[162,.36,.46,.56,.7,.8],[166,.38,.5,.62,.74,.82],[170,.36,.46,.58,.7,.8],[174,.38,.5,.62,.72,.78],[178,.36,.46,.56,.7,.76],[182,.34,.46,.58,.66,.76],[186,.34,.44,.54,.64,.72,.8],[190,.32,.42,.54,.64,.72],[194,.32,.6,.66,.72],[198,.32,.6,.66],[202,.3,.62,.7],[206,.3,.6,.68],[210,.3,.62,.68,.76],[214,.3,.58,.64],[218,.3,.58,.64],[222,.28,.56,.62],[226,.28,.54,.6],[230,.27,.5,.56],[234,.26,.48,.54],[238,.25,.48,.54],[242,.24,.46,.52],[246,.23,.44,.5],[250,.22,.42,.48],[253,.22,.46,.5],[257,.22,.34,.46],[261,.22,.32,.44,.5],[265,.22,.3,.4,.48],[268,.22,.3,.38,.46],[272,.22,.3,.36,.46],[276,.24,.3,.4,.48],[279,.24,.36,.48,.54],[283,.24,.36,.52,.58],[285,.26,.44,.54,.6],[287,.26,.44,.56],[289,.3,.42,.52]
];
const phaseNoL5Dense = [
[38,.36,.4,.44,.48,.52,.56],[40,.34,.38,.42,.46,.5,.54,.6],[43,.36,.42,.48,.52],[46,.32,.38,.44],[50,.3,.36,.42,.5],[54,.28,.34,.4,.46,.52],[57,.27,.31,.35,.39,.43,.47,.51,.55],[59,.28,.33,.38,.43,.48,.53],[61,.3,.36,.42,.48],[66,.26,.32,.38,.44],[68,.28,.32,.36,.4,.44,.48,.52],[70,.26,.3,.34,.38,.42,.46,.5],[72,.28,.34,.4],
[78,.26,.32,.38],[82,.22,.27,.32,.37],[85,.19,.23,.27,.31,.35],[87,.18,.22,.26,.3,.34],[89,.16,.2,.24,.28,.32,.38],[91,.18,.22,.26,.3,.34,.4],[93,.2,.24,.28,.33],[97,.2,.25,.3,.36,.42],[100,.22,.28,.34,.4],[103,.2,.25,.3,.35,.4,.45],[105,.22,.27,.32,.38,.44],[107,.21,.27,.33,.39,.46],
[111,.24,.3,.36,.42,.48],[114,.26,.32,.38,.44,.5],[117,.3,.35,.4,.45,.5,.55],[120,.32,.36,.4,.44,.48,.52,.56],[122,.3,.35,.4,.44,.48,.52,.56,.6],[124,.34,.38,.42,.46,.5,.54,.58],[126,.3,.35,.4,.44,.48,.52,.56,.6],[128,.34,.38,.42,.46,.5,.54,.58,.64],[130,.32,.36,.4,.44,.48,.52,.56,.62],[132,.34,.38,.42,.46,.5,.54,.58,.62],[134,.32,.38,.44,.5,.56,.62],[137,.34,.4,.46,.52,.58,.64],[140,.36,.42,.48,.54,.6],[143,.38,.44,.5,.56,.62],
[148,.4,.46,.52,.58,.64,.7],[152,.38,.44,.5,.56,.62,.68,.74],[156,.4,.45,.5,.55,.6,.65,.7],[160,.38,.44,.5,.56,.62,.68],[164,.4,.46,.52,.58,.64,.7,.76],[168,.36,.42,.48,.54,.6,.66,.72],[172,.42,.48,.54,.6,.66],[176,.4,.46,.52,.58,.64],[180,.42,.48,.54,.6,.68],[184,.38,.44,.5,.56,.62],[188,.36,.42,.48,.54,.6,.66],
[191,.36,.4,.44,.48,.52,.56,.62],[193,.38,.42,.46,.5,.54,.58],[195,.36,.39,.43,.47,.51,.55,.6],[197,.37,.41,.45,.49,.53,.57,.63],[199,.35,.38,.42,.46,.5,.54,.58],[201,.36,.4,.44,.48,.52,.56,.6],[203,.34,.38,.41,.45,.49,.53,.57],[205,.35,.39,.43,.47,.51,.55,.6],[207,.33,.37,.4,.44,.48,.52,.56],[209,.35,.38,.42,.46,.5,.54,.58],
[211,.33,.36,.4,.43,.47,.51,.55,.6],[213,.34,.38,.41,.45,.49,.53,.57],[215,.32,.36,.39,.43,.47,.51,.55],[217,.33,.37,.4,.44,.48,.52,.56],[219,.32,.35,.39,.42,.46,.5,.54],[221,.33,.36,.4,.43,.47,.51,.55],[223,.31,.34,.38,.41,.45,.49,.53],[225,.32,.35,.38,.42,.45,.49,.53],[227,.3,.33,.37,.4,.44,.48,.52],[229,.31,.34,.37,.41,.44,.48],
[231,.29,.32,.36,.39,.43,.46,.5],[233,.3,.33,.36,.4,.43,.47],[235,.28,.31,.35,.38,.42,.45,.49],[237,.29,.32,.35,.39,.42,.46],[239,.27,.3,.34,.37,.41,.44,.48],[241,.28,.31,.34,.38,.41,.45],[243,.26,.3,.33,.36,.4,.44,.48],[245,.27,.3,.33,.37,.4,.44],[247,.25,.29,.32,.35,.39,.43],[249,.25,.28,.31,.35,.38,.42],
[252,.24,.27,.3,.34,.38,.42,.46],[254,.25,.28,.32,.36,.4,.44],[256,.24,.27,.31,.35,.39,.43],[258,.25,.29,.33,.37,.41,.45],[260,.26,.3,.34,.38,.42],[263,.25,.3,.35,.4,.45],[266,.27,.32,.37,.42],[270,.27,.32,.38,.44],[274,.28,.34,.4],[278,.26,.32,.38,.44],[280,.3,.35,.4,.45,.5],[282,.28,.33,.38,.43,.48,.54],[284,.3,.34,.38,.42,.46,.5],[286,.28,.32,.36,.4,.44,.48,.52],[288,.32,.38,.44,.5]
];
const xTicks = [0, 100, 200, 300];
const yTicks = [0, 0.5, 1];
const boundaryAngles = [145, 250];

const toPoints = rows => rows.flatMap(([angle, ...values]) => values.map(v => ({ x: angle, y: v })));

function layer(rows, colour, radius, order) {
    return {
        type: 'scatter', data: toPoints(rows), order: order,
        backgroundColor: colour, borderWidth: 0, pointRadius: radius, pointHoverRadius: radius
    };
}

function boundaries(yMax) {
    return boundaryAngles.map(a => ({
        type: 'line', data: [{ x: a, y: 0 }, { x: a, y: yMax }], order: 0,
        borderColor: '#5f5f5f', borderWidth: 4, pointRadius: 0
    }));
}

function drawPanel(id, datasets, yMax, yAxisWidth, padRight, padBottom) {
    new Chart(document.getElementById(id), {
        type: 'scatter',
        data: { datasets: datasets },
        options: {
            responsive: false,
            animation: false,
            events: [],
            layout: { padding: { top: 11, right: padRight, bottom: padBottom, left: 0 } },
            plugins: { legend: { display: false }, tooltip: { enabled: false } },
            scales: {
                x: {
                    type: 'linear', min: 0, max: 360,
                    afterBuildTicks: s => { s.ticks = xTicks.map(v => ({ value: v })); },
                    afterFit: s => { s.height = 53; s.paddingLeft = 0; s.paddingRight = 0; },
                    border: { color: '#555', width: 1.4 },
                    grid: { drawOnChartArea: false, drawTicks: true, tickLength: -3, color: '#555' },
                    ticks: { color: '#333', font: { family: 'Liberation Sans', size: 17 }, padding: 9, maxRotation: 0 },
                    title: { display: true, text: 'Nacelle angle in degree', color: '#333', font: { family: 'Liberation Sans', size: 19.5 }, padding: 0 }
                },
                y: {
                    type: 'linear', min: 0, max: yMax,
                    afterBuildTicks: s => { s.ticks = yTicks.map(v => ({ value: v })); },
                    afterFit: s => { s.width = yAxisWidth; s.paddingTop = 0; s.paddingBottom = 0; },
                    border: { color: '#555', width: 1.4 },
                    grid: { drawOnChartArea: false, drawTicks: true, tickLength: -3, color: '#555' },
                    ticks: { color: '#333', font: { family: 'Liberation Sans', size: 17 }, padding: 8, callback: v => String(v) }
                }
            }
        }
    });
}

function trainingLayers(sparse, mid, dense) {
    return [layer(sparse, 'rgba(0,0,0,0.15)', 2.2, 6), layer(mid, 'rgba(0,0,0,0.26)', 2.5, 5), layer(dense, 'rgba(0,0,0,0.42)', 2.8, 4)];
}

function phaseLayers(sparse, mid, dense) {
    return [layer(sparse, 'rgba(217,83,25,0.2)', 2.2, 3), layer(mid, 'rgba(213,80,15,0.34)', 2.5, 2), layer(dense, 'rgba(208,76,5,0.5)', 2.8, 1)];
}

drawPanel('c1', trainingLayers(trainAllSparse, trainAllMid, trainAllDense), 1.09, 68, 23, 8);
drawPanel('c2', [...trainingLayers(trainAllSparse, trainAllMid, trainAllDense),
    ...phaseLayers(phaseAllSparse, phaseAllMid, phaseAllDense), ...boundaries(1.09)], 1.09, 66, 25, 8);
drawPanel('c3', trainingLayers(trainNoL5Sparse, trainNoL5Mid, trainNoL5Dense), 1.02, 68, 23, 1);
drawPanel('c4', [...trainingLayers(trainNoL5Sparse, trainNoL5Mid, trainNoL5Dense),
    ...phaseLayers(phaseNoL5Sparse, phaseNoL5Mid, phaseNoL5Dense), ...boundaries(1.02)], 1.02, 66, 25, 1);
</script>
</body>
</html>
